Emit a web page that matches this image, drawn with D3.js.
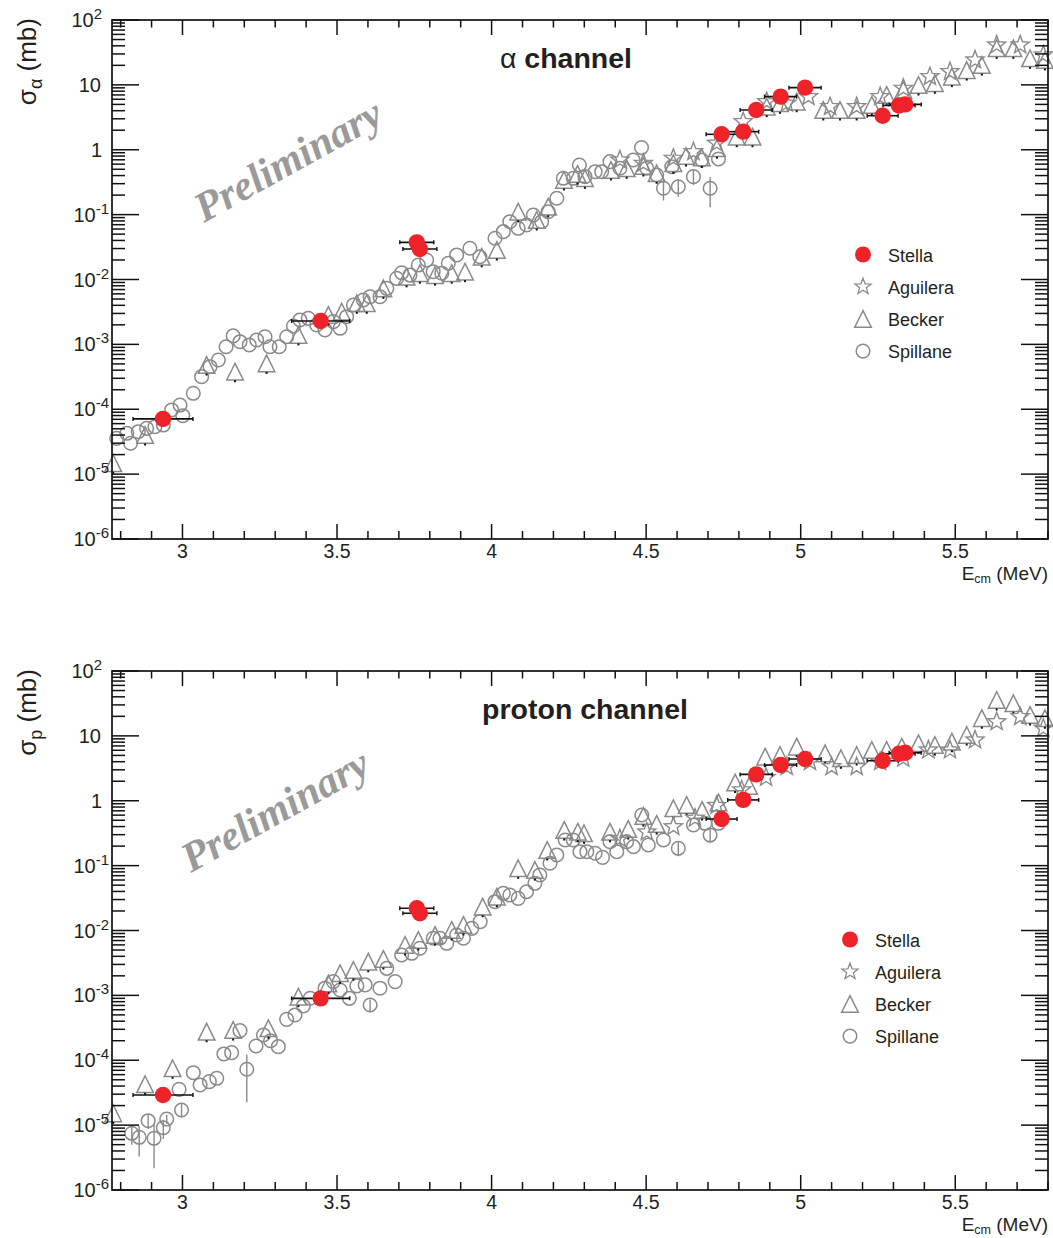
<!DOCTYPE html>
<html><head><meta charset="utf-8">
<script src="https://cdn.jsdelivr.net/npm/d3@7"></script>
<style>html,body{margin:0;padding:0;background:#fff;} svg{display:block;}</style>
</head><body>
<svg id="c" width="1053" height="1238"></svg>
<script>
// ---------------- DATA ----------------
const seriesNames = ["Stella", "Aguilera", "Becker", "Spillane"];
const xTickLabels = ["3", "3.5", "4", "4.5", "5", "5.5"];
const xTickValues = [3, 3.5, 4, 4.5, 5, 5.5];
const yTickExponents = [2, 1, 0, -1, -2, -3, -4, -5, -6];
const E_DOMAIN = [2.772, 5.8];

// [E (MeV), sigma (mb), dE (MeV)]
const alphaStella = [
  [2.937, 7.1e-5, 0.097], [3.447, 2.29e-3, 0.094], [3.758, 3.74e-2, 0.055], [3.768, 2.95e-2, 0.055],
  [4.744, 1.73, 0.050], [4.814, 1.90, 0.050], [4.856, 4.10, 0.052], [4.935, 6.58, 0.052],
  [5.014, 9.06, 0.052], [5.265, 3.35, 0.050], [5.318, 4.8, 0.052], [5.338, 5.0, 0.052]
];
const protonStella = [
  [2.937, 2.91e-5, 0.097], [3.447, 9.0e-4, 0.094], [3.758, 2.2e-2, 0.055], [3.768, 1.84e-2, 0.055],
  [4.744, 0.523, 0.050], [4.814, 1.03, 0.050], [4.856, 2.55, 0.052], [4.935, 3.56, 0.052],
  [5.014, 4.40, 0.052], [5.265, 4.14, 0.050], [5.318, 5.3, 0.052], [5.338, 5.5, 0.052]
];

// [E, sigma]
const alphaAguilera = [
  [4.415, 0.695], [4.491, 0.618], [4.588, 0.738], [4.653, 0.933], [4.728, 1.26], [4.814, 2.71],
  [4.890, 5.5], [4.955, 5.2], [5.025, 6.58], [5.095, 4.62], [5.181, 4.62], [5.257, 6.58],
  [5.332, 8.85], [5.418, 13.4], [5.483, 16.0], [5.564, 24.2], [5.634, 41.2], [5.710, 41.2], [5.785, 28.9]
];
const protonAguilera = [
  [4.415, 0.26], [4.502, 0.330], [4.588, 0.398], [4.658, 0.537], [4.728, 0.845], [4.809, 1.47],
  [4.888, 2.28], [4.955, 3.35], [5.030, 4.0], [5.100, 3.35], [5.181, 3.35], [5.257, 4.0],
  [5.332, 4.51], [5.413, 6.05], [5.483, 6.05], [5.564, 8.63], [5.634, 16.5], [5.710, 19.8], [5.785, 13.1]
];

const alphaBecker = [
  [2.776, 1.47e-5], [2.879, 4.01e-5], [3.078, 4.81e-4], [3.170, 3.79e-4], [3.272, 5.1e-4],
  [3.375, 1.40e-3], [3.472, 2.84e-3], [3.515, 3.19e-3], [3.564, 4.30e-3], [3.596, 4.30e-3],
  [3.650, 7.31e-3], [3.725, 1.10e-2], [3.768, 1.25e-2], [3.817, 1.17e-2], [3.871, 1.25e-2],
  [3.914, 1.32e-2], [3.968, 2.24e-2], [4.017, 2.85e-2], [4.086, 0.111], [4.146, 8.26e-2],
  [4.183, 0.132], [4.234, 0.342], [4.278, 0.423], [4.302, 0.363], [4.386, 0.488], [4.437, 0.518],
  [4.491, 0.562], [4.534, 0.434], [4.588, 0.618], [4.629, 0.80], [4.680, 0.76], [4.729, 1.06],
  [4.793, 1.59], [4.844, 1.59], [4.890, 4.62], [4.933, 5.2], [4.987, 5.5], [5.073, 4.10],
  [5.127, 4.10], [5.181, 4.10], [5.230, 4.90], [5.278, 6.98], [5.332, 8.34], [5.381, 9.95],
  [5.434, 10.6], [5.489, 13.4], [5.537, 16.9], [5.586, 20.2], [5.634, 36.6], [5.688, 36.6],
  [5.742, 25.7], [5.790, 24.2]
];
const protonBecker = [
  [2.776, 1.52e-5], [2.879, 4.26e-5], [2.968, 7.52e-5], [3.078, 2.75e-4], [3.164, 2.92e-4],
  [3.278, 3.11e-4], [3.375, 9.55e-4], [3.472, 1.53e-3], [3.510, 2.19e-3], [3.553, 2.46e-3],
  [3.601, 3.30e-3], [3.650, 3.64e-3], [3.720, 5.98e-3], [3.763, 7.14e-3], [3.817, 8.53e-3],
  [3.871, 1.02e-2], [3.909, 1.22e-2], [3.971, 2.33e-2], [4.017, 3.32e-2], [4.086, 9.1e-2],
  [4.140, 8.57e-2], [4.180, 0.174], [4.235, 0.354], [4.279, 0.333], [4.299, 0.315], [4.383, 0.333],
  [4.442, 0.367], [4.491, 0.582], [4.534, 0.438], [4.588, 0.765], [4.631, 0.861], [4.681, 0.72],
  [4.734, 0.94], [4.788, 1.91], [4.833, 1.69], [4.885, 4.78], [4.933, 5.07], [4.987, 6.81],
  [5.079, 5.38], [5.130, 4.51], [5.181, 5.07], [5.230, 6.05], [5.278, 6.05], [5.327, 6.81],
  [5.381, 7.69], [5.434, 7.23], [5.489, 8.13], [5.537, 10.3], [5.586, 18.7], [5.634, 35.7],
  [5.688, 31.8], [5.742, 21.0], [5.790, 18.7]
];

// [E, sigma, dSigma (0 = none drawn)]
const alphaSpillane = [
  [2.787, 3.56e-5, 0], [2.820, 4.26e-5, 0], [2.832, 2.99e-5, 0], [2.857, 4.51e-5, 0], [2.884, 5.08e-5, 0],
  [2.911, 5.38e-5, 0], [2.938, 5.71e-5, 0], [2.965, 9.75e-5, 0], [2.992, 1.16e-4, 0], [3.001, 7.96e-5, 0],
  [3.035, 1.76e-4, 0], [3.062, 3.18e-4, 0], [3.089, 4.53e-4, 0], [3.116, 5.74e-4, 0], [3.141, 9.2e-4, 0],
  [3.164, 1.35e-3, 0], [3.186, 1.10e-3, 0], [3.216, 9.8e-4, 0], [3.240, 1.17e-3, 0], [3.267, 1.31e-3, 0],
  [3.283, 9.2e-4, 0], [3.313, 9.2e-4, 0], [3.337, 1.31e-3, 0], [3.359, 1.92e-3, 0], [3.380, 2.38e-3, 0],
  [3.407, 2.52e-3, 0], [3.434, 1.99e-3, 0], [3.461, 1.67e-3, 0], [3.488, 2.24e-3, 0], [3.510, 1.77e-3, 0],
  [3.531, 2.67e-3, 0], [3.553, 4.05e-3, 0], [3.585, 4.83e-3, 0], [3.607, 5.43e-3, 0], [3.639, 5.43e-3, 0],
  [3.661, 7.31e-3, 0], [3.693, 1.04e-2, 0], [3.709, 1.27e-2, 0], [3.736, 1.17e-2, 0], [3.763, 1.67e-2, 0],
  [3.790, 2.0e-2, 0], [3.811, 1.32e-2, 0], [3.839, 1.25e-2, 0], [3.860, 1.78e-2, 0], [3.887, 2.39e-2, 0],
  [3.930, 3.03e-2, 0], [3.962, 2.24e-2, 0], [4.011, 4.32e-2, 0], [4.038, 5.46e-2, 0], [4.059, 7.78e-2, 0],
  [4.086, 6.15e-2, 0], [4.113, 6.92e-2, 0], [4.135, 9.86e-2, 0], [4.162, 7.78e-2, 0], [4.183, 0.111, 0],
  [4.211, 0.179, 0], [4.232, 0.363, 0], [4.264, 0.363, 0], [4.284, 0.582, 0], [4.302, 0.385, 0],
  [4.335, 0.459, 0], [4.356, 0.459, 0], [4.383, 0.655, 0], [4.415, 0.518, 0], [4.458, 0.695, 0],
  [4.485, 1.08, 0], [4.502, 0.518, 0], [4.534, 0.408, 0], [4.556, 0.255, 0.09], [4.583, 0.548, 0],
  [4.604, 0.269, 0.08], [4.653, 0.385, 0.10], [4.680, 0.695, 0], [4.707, 0.255, 0.125], [4.734, 0.72, 0]
];
const protonSpillane = [
  [2.836, 7.48e-6, 2.5e-6], [2.860, 6.49e-6, 3.2e-6], [2.889, 1.17e-5, 3.0e-6], [2.908, 6.26e-6, 4.1e-6],
  [2.938, 9.12e-6, 3.0e-6], [2.949, 1.24e-5, 2.0e-6], [2.989, 3.56e-5, 0], [2.997, 1.71e-5, 4.0e-6],
  [3.035, 6.43e-5, 0], [3.057, 4.16e-5, 0], [3.087, 4.68e-5, 0], [3.111, 5.27e-5, 0], [3.134, 1.25e-4, 0],
  [3.159, 1.31e-4, 0], [3.186, 2.86e-4, 0], [3.208, 7.26e-5, 5.0e-5], [3.238, 1.66e-4, 0], [3.262, 2.45e-4, 0],
  [3.285, 2.0e-4, 0], [3.310, 1.62e-4, 0], [3.337, 4.27e-4, 0], [3.364, 4.99e-4, 0], [3.391, 6.86e-4, 0],
  [3.413, 9.02e-4, 0], [3.461, 1.29e-3, 0], [3.488, 1.63e-3, 0], [3.510, 1.21e-3, 0], [3.540, 9.0e-4, 0],
  [3.564, 1.40e-3, 0], [3.591, 1.45e-3, 0], [3.607, 7.11e-4, 1.5e-4], [3.639, 1.29e-3, 0], [3.661, 2.61e-3, 0],
  [3.688, 1.63e-3, 0], [3.709, 4.19e-3, 0], [3.742, 4.45e-3, 0], [3.768, 5.32e-3, 0], [3.811, 7.59e-3, 0],
  [3.833, 7.59e-3, 0], [3.855, 6.35e-3, 0], [3.887, 8.53e-3, 0], [3.909, 7.59e-3, 0], [3.936, 1.08e-2, 0],
  [3.963, 1.37e-2, 0], [4.011, 2.78e-2, 0], [4.038, 3.74e-2, 0], [4.059, 3.52e-2, 0], [4.086, 3.13e-2, 0],
  [4.113, 3.96e-2, 0], [4.140, 5.34e-2, 0], [4.156, 7.18e-2, 0], [4.189, 0.109, 0], [4.211, 0.146, 0],
  [4.238, 0.248, 0], [4.264, 0.248, 0], [4.286, 0.164, 0], [4.308, 0.164, 0], [4.335, 0.155, 0],
  [4.359, 0.134, 0], [4.383, 0.234, 0], [4.405, 0.164, 0], [4.437, 0.234, 0], [4.459, 0.196, 0],
  [4.486, 0.603, 0], [4.507, 0.208, 0], [4.556, 0.248, 0], [4.604, 0.185, 0.045], [4.653, 0.423, 0],
  [4.690, 0.449, 0], [4.707, 0.296, 0.07], [4.734, 0.449, 0]
];

// ---------------- DRAWING ----------------
const svg = d3.select("#c");
const X0 = 112, X1 = 1048, PT = 20, PB = 539;
const x = d3.scaleLinear().domain(E_DOMAIN).range([X0, X1]);
const SANS = "'Liberation Sans', Arial, Helvetica, sans-serif";
const TXT = "#231f20";
const GRAY = "#8a8a8a";
const RED = "#ee2229";

function starPath(R) {
  const r = R * 0.42, p = [];
  for (let i = 0; i < 10; i++) {
    const a = -Math.PI / 2 + i * Math.PI / 5, rr = i % 2 ? r : R;
    p.push((rr * Math.cos(a)).toFixed(2) + "," + (rr * Math.sin(a)).toFixed(2));
  }
  return "M" + p.join("L") + "Z";
}
const triPath = s => `M0,${-s}L${s},${s}L${-s},${s}Z`;

function drawPanel(offset, cfg) {
  const g = svg.append("g").attr("transform", `translate(0,${offset})`);
  const y = d3.scaleLog().domain([1e-6, 1e2]).range([PB, PT]);

  // Preliminary watermark
  g.append("text")
    .attr("transform", `translate(${cfg.prelimX},${cfg.prelimY}) rotate(-29)`)
    .attr("font-family", "'Liberation Serif', 'Times New Roman', serif")
    .attr("font-weight", "bold").attr("font-style", "italic")
    .attr("font-size", 42).attr("fill", "#9a9a9a")
    .text("Preliminary");

  // Spillane error bars + circles
  const sp = g.append("g");
  sp.selectAll("line").data(cfg.spillane.filter(d => d[2] > 0)).join("line")
    .attr("x1", d => x(d[0])).attr("x2", d => x(d[0]))
    .attr("y1", d => y(d[1] + d[2])).attr("y2", d => y(Math.max(d[1] - d[2], 1e-7)))
    .attr("stroke", GRAY).attr("stroke-width", 1.4);
  sp.selectAll("circle").data(cfg.spillane).join("circle")
    .attr("cx", d => x(d[0])).attr("cy", d => y(d[1])).attr("r", 6.8)
    .attr("fill", "none").attr("stroke", GRAY).attr("stroke-width", 1.5);

  // Becker triangles
  const bk = g.append("g");
  bk.selectAll("path").data(cfg.becker).join("path")
    .attr("transform", d => `translate(${x(d[0])},${y(d[1])})`)
    .attr("d", triPath(8.3))
    .attr("fill", "none").attr("stroke", GRAY).attr("stroke-width", 1.5).attr("stroke-linejoin", "miter");
  bk.selectAll("rect").data(cfg.becker).join("rect")
    .attr("x", d => x(d[0]) - 1).attr("y", d => y(d[1]) + 8.5)
    .attr("width", 2).attr("height", 2).attr("fill", "#111");

  // Aguilera stars
  g.append("g").selectAll("path").data(cfg.aguilera).join("path")
    .attr("transform", d => `translate(${x(d[0])},${y(d[1])})`)
    .attr("d", starPath(9.5))
    .attr("fill", "none").attr("stroke", GRAY).attr("stroke-width", 1.4);

  // Stella
  const st = g.append("g");
  st.selectAll("line.h").data(cfg.stella).join("line").attr("class", "h")
    .attr("x1", d => x(d[0] - d[2])).attr("x2", d => x(d[0] + d[2]))
    .attr("y1", d => y(d[1])).attr("y2", d => y(d[1]))
    .attr("stroke", "#111").attr("stroke-width", 1.6);
  ["l", "r"].forEach(side => {
    st.selectAll("line.c" + side).data(cfg.stella).join("line").attr("class", "c" + side)
      .attr("x1", d => x(side === "l" ? d[0] - d[2] : d[0] + d[2]))
      .attr("x2", d => x(side === "l" ? d[0] - d[2] : d[0] + d[2]))
      .attr("y1", d => y(d[1]) - 2).attr("y2", d => y(d[1]) + 2)
      .attr("stroke", "#111").attr("stroke-width", 1.4);
  });
  st.selectAll("circle").data(cfg.stella).join("circle")
    .attr("cx", d => x(d[0])).attr("cy", d => y(d[1])).attr("r", 8.2)
    .attr("fill", RED);

  // Frame
  g.append("rect").attr("x", X0).attr("y", PT).attr("width", X1 - X0).attr("height", PB - PT)
    .attr("fill", "none").attr("stroke", "#111").attr("stroke-width", 1.7);

  // X ticks
  const xt = d3.range(28, 59).map(d => d / 10);
  const ax = g.append("g").attr("stroke", "#111").attr("stroke-width", 1.5);
  xt.forEach(t => {
    const major = Math.round(t * 10) % 5 === 0;
    const L = major ? 15 : 8;
    ax.append("line").attr("x1", x(t)).attr("x2", x(t)).attr("y1", PB).attr("y2", PB - L);
    ax.append("line").attr("x1", x(t)).attr("x2", x(t)).attr("y1", PT).attr("y2", PT + (major ? 15 : 7.5));
  });
  // Y ticks
  for (let d = -6; d <= 2; d++) {
    const v = Math.pow(10, d);
    ax.append("line").attr("x1", X0).attr("x2", X0 + 27).attr("y1", y(v)).attr("y2", y(v));
    ax.append("line").attr("x1", X1).attr("x2", X1 - 27).attr("y1", y(v)).attr("y2", y(v));
    if (d < 2) for (let k = 2; k <= 9; k++) {
      const yy = y(k * v);
      ax.append("line").attr("x1", X0).attr("x2", X0 + 13).attr("y1", yy).attr("y2", yy);
      ax.append("line").attr("x1", X1).attr("x2", X1 - 13).attr("y1", yy).attr("y2", yy);
    }
  }

  // X tick labels
  g.append("g").selectAll("text").data(xTickValues).join("text")
    .attr("x", d => x(d)).attr("y", 558).attr("text-anchor", "middle")
    .attr("font-family", SANS).attr("font-size", 19.5).attr("fill", TXT)
    .text((d, i) => xTickLabels[i]);

  // Y tick labels
  yTickExponents.forEach(e => {
    const t = g.append("text").attr("y", y(Math.pow(10, e)) + 7)
      .attr("text-anchor", "end").attr("font-family", SANS).attr("font-size", 20).attr("fill", TXT);
    if (e === 0) { t.attr("x", 102).text("1"); }
    else if (e === 1) { t.attr("x", 101).text("10"); }
    else {
      t.attr("x", e > 0 ? 102 : 109);
      t.append("tspan").text("10");
      t.append("tspan").attr("dy", -8).attr("font-size", 15).text(String(e));
    }
  });

  // Y title
  const yt = g.append("text")
    .attr("transform", `translate(36,18) rotate(-90)`)
    .attr("text-anchor", "end").attr("font-family", SANS).attr("font-size", 26).attr("fill", TXT);
  yt.append("tspan").text("σ");
  yt.append("tspan").attr("dy", 6).attr("font-size", 18).text(cfg.sub);
  yt.append("tspan").attr("dy", -6).text(" (mb)");

  // X title
  const xtl = g.append("text").attr("x", X1).attr("y", 580).attr("text-anchor", "end")
    .attr("font-family", SANS).attr("font-size", 19).attr("fill", TXT);
  xtl.append("tspan").text("E");
  xtl.append("tspan").attr("dy", 3).attr("font-size", 12.5).text("cm");
  xtl.append("tspan").attr("dy", -3).text(" (MeV)");

  // Title
  const tt = g.append("text").attr("x", cfg.titleX).attr("y", 68).attr("text-anchor", "middle")
    .attr("font-family", SANS).attr("font-size", 28.5).attr("fill", TXT);
  if (cfg.titleGreek) tt.append("tspan").attr("font-weight", "normal").text(cfg.titleGreek + " ");
  tt.append("tspan").attr("font-weight", "bold").text(cfg.titleText);

  // Legend
  const lg = g.append("g");
  seriesNames.forEach((name, i) => {
    const cy = cfg.legY + i * 32.2, cx = cfg.legX;
    if (i === 0) lg.append("circle").attr("cx", cx).attr("cy", cy).attr("r", 8).attr("fill", RED);
    if (i === 1) lg.append("path").attr("transform", `translate(${cx},${cy})`).attr("d", starPath(8.5))
      .attr("fill", "none").attr("stroke", GRAY).attr("stroke-width", 1.3);
    if (i === 2) lg.append("path").attr("transform", `translate(${cx},${cy})`).attr("d", triPath(8.3))
      .attr("fill", "none").attr("stroke", GRAY).attr("stroke-width", 1.5);
    if (i === 3) lg.append("circle").attr("cx", cx).attr("cy", cy).attr("r", 6.8)
      .attr("fill", "none").attr("stroke", GRAY).attr("stroke-width", 1.5);
    lg.append("text").attr("x", cx + 25).attr("y", cy + 7)
      .attr("font-family", SANS).attr("font-size", 18).attr("fill", TXT).text(name);
  });
}

drawPanel(0, {
  stella: alphaStella, aguilera: alphaAguilera, becker: alphaBecker, spillane: alphaSpillane,
  sub: "α", titleGreek: "α", titleText: "channel", titleX: 566,
  legX: 863, legY: 254.5, prelimX: 204, prelimY: 223
});
drawPanel(651, {
  stella: protonStella, aguilera: protonAguilera, becker: protonBecker, spillane: protonSpillane,
  sub: "p", titleGreek: null, titleText: "proton channel", titleX: 585,
  legX: 850, legY: 288.5, prelimX: 191, prelimY: 222
});
</script>
</body></html>
